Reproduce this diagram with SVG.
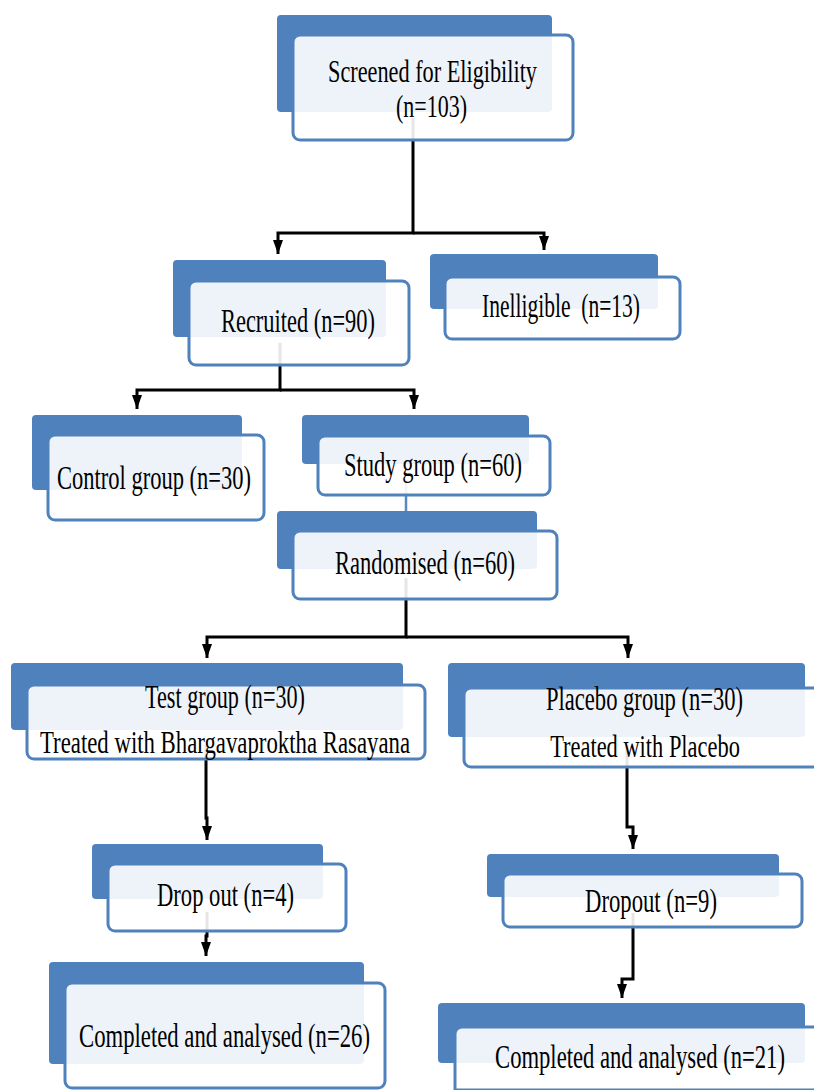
<svg xmlns="http://www.w3.org/2000/svg" width="814" height="1090" viewBox="0 0 814 1090">
<style>
.back{fill:#4F81BD}
.front{fill:#FFFFFF;fill-opacity:0.9;stroke:#4F81BD;stroke-width:3}
.t{font-family:"Liberation Serif","Times New Roman",serif;font-size:34px;fill:#000}
.t2{font-size:32px}
.t3{font-size:32px}
.m{text-anchor:middle}
.c{fill:none;stroke:#000;stroke-width:3}
.cb{fill:none;stroke:#5B87C2;stroke-width:2.5}
</style>
<defs>
<marker id="ah" viewBox="0 0 14 10" refX="14" refY="5" markerWidth="14" markerHeight="10" markerUnits="userSpaceOnUse" orient="auto">
<path d="M0,0 L14,5 L0,10 z" fill="#000"/>
</marker>
</defs>
<rect width="814" height="1090" fill="#FFFFFF"/>
<g id="connectors">
<path class="c" d="M413,118 V233 H278 V254" marker-end="url(#ah)"/>
<path class="c" d="M413,233 H544 V250" marker-end="url(#ah)"/>
<path class="c" d="M280,343 V390 H137 V409" marker-end="url(#ah)"/>
<path class="c" d="M280,390 H414 V409" marker-end="url(#ah)"/>
<path class="cb" d="M406,480 V511"/>
<path class="c" d="M406,578 V637 H207 V658" marker-end="url(#ah)"/>
<path class="c" d="M406,637 H628 V658" marker-end="url(#ah)"/>
<path class="c" d="M206,745 V818 H207 V840" marker-end="url(#ah)"/>
<path class="c" d="M207,912 V936 H206 V956" marker-end="url(#ah)"/>
<path class="c" d="M627,745 V827 H633 V849" marker-end="url(#ah)"/>
<path class="c" d="M633,913 V979 H622 V998" marker-end="url(#ah)"/>
</g>
<g id="screened">
<rect class="back" x="277" y="15" width="275" height="97" rx="4"/>
<rect class="front" x="293" y="35" width="280" height="105" rx="7"/>
<text class="t t3" x="328" y="82" textLength="209" lengthAdjust="spacingAndGlyphs">Screened for Eligibility</text>
<text class="t t3" x="396" y="117" textLength="71" lengthAdjust="spacingAndGlyphs">(n=103)</text>
</g>
<g id="recruited">
<rect class="back" x="173" y="260" width="213" height="77" rx="4"/>
<rect class="front" x="189" y="281" width="220" height="84" rx="7"/>
<text class="t" x="221" y="332" textLength="154" lengthAdjust="spacingAndGlyphs">Recruited (n=90)</text>
</g>
<g id="ineligible">
<rect class="back" x="430" y="254" width="228" height="55" rx="4"/>
<rect class="front" x="445" y="277" width="235" height="62" rx="7"/>
<text class="t" x="482" y="317" textLength="158" lengthAdjust="spacingAndGlyphs" xml:space="preserve">Inelligible  (n=13)</text>
</g>
<g id="control">
<rect class="back" x="32" y="415" width="210" height="75" rx="4"/>
<rect class="front" x="48" y="435" width="216" height="85" rx="7"/>
<text class="t" x="57" y="489" textLength="194" lengthAdjust="spacingAndGlyphs">Control group (n=30)</text>
</g>
<g id="study">
<rect class="back" x="302" y="415" width="227" height="49" rx="4"/>
<rect class="front" x="318" y="436" width="232" height="59" rx="7"/>
<text class="t" x="344" y="476" textLength="178" lengthAdjust="spacingAndGlyphs">Study group (n=60)</text>
</g>
<g id="randomised">
<rect class="back" x="277" y="511" width="260" height="58" rx="4"/>
<rect class="front" x="293" y="531" width="264" height="68" rx="7"/>
<text class="t" x="335" y="574" textLength="180" lengthAdjust="spacingAndGlyphs">Randomised (n=60)</text>
</g>
<g id="test">
<rect class="back" x="11" y="663" width="392" height="67" rx="4"/>
<rect class="front" x="27" y="685" width="398" height="74" rx="7"/>
<text class="t" x="145" y="708" textLength="160" lengthAdjust="spacingAndGlyphs">Test group (n=30)</text>
<text class="t t2" x="40" y="753" textLength="370" lengthAdjust="spacingAndGlyphs">Treated with Bhargavaproktha Rasayana</text>
</g>
<g id="placebo">
<rect class="back" x="448" y="663" width="357" height="74" rx="4"/>
<path class="front" d="M814,688 H471 A7,7 0 0 0 464,695 V760 A7,7 0 0 0 471,767 H814"/>
<text class="t m" transform="translate(644.5,710) scale(0.62,1)" x="0" y="0" textLength="318" lengthAdjust="spacingAndGlyphs">Placebo group (n=30)</text>
<text class="t t2 m" transform="translate(645,757) scale(0.7,1)" x="0" y="0" textLength="271" lengthAdjust="spacingAndGlyphs">Treated with Placebo</text>
</g>
<g id="dropout-test">
<rect class="back" x="92" y="844" width="231" height="55" rx="4"/>
<rect class="front" x="108" y="864" width="238" height="67" rx="7"/>
<text class="t" x="157" y="906" textLength="137" lengthAdjust="spacingAndGlyphs">Drop out (n=4)</text>
</g>
<g id="dropout-placebo">
<rect class="back" x="487" y="854" width="292" height="43" rx="4"/>
<rect class="front" x="503" y="874" width="299" height="53" rx="7"/>
<text class="t" x="585" y="912" textLength="132" lengthAdjust="spacingAndGlyphs">Dropout (n=9)</text>
</g>
<g id="completed-test">
<rect class="back" x="49" y="962" width="315" height="102" rx="4"/>
<rect class="front" x="65" y="983" width="320" height="105" rx="7"/>
<text class="t" x="79" y="1047" textLength="291" lengthAdjust="spacingAndGlyphs">Completed and analysed (n=26)</text>
</g>
<g id="completed-placebo">
<rect class="back" x="438" y="1003" width="367" height="60" rx="4"/>
<path class="front" d="M814,1027 H462 A7,7 0 0 0 455,1034 V1090 H814"/>
<text class="t m" transform="translate(640,1068) scale(0.665,1)" x="0" y="0" textLength="436" lengthAdjust="spacingAndGlyphs">Completed and analysed (n=21)</text>
</g>
</svg>
